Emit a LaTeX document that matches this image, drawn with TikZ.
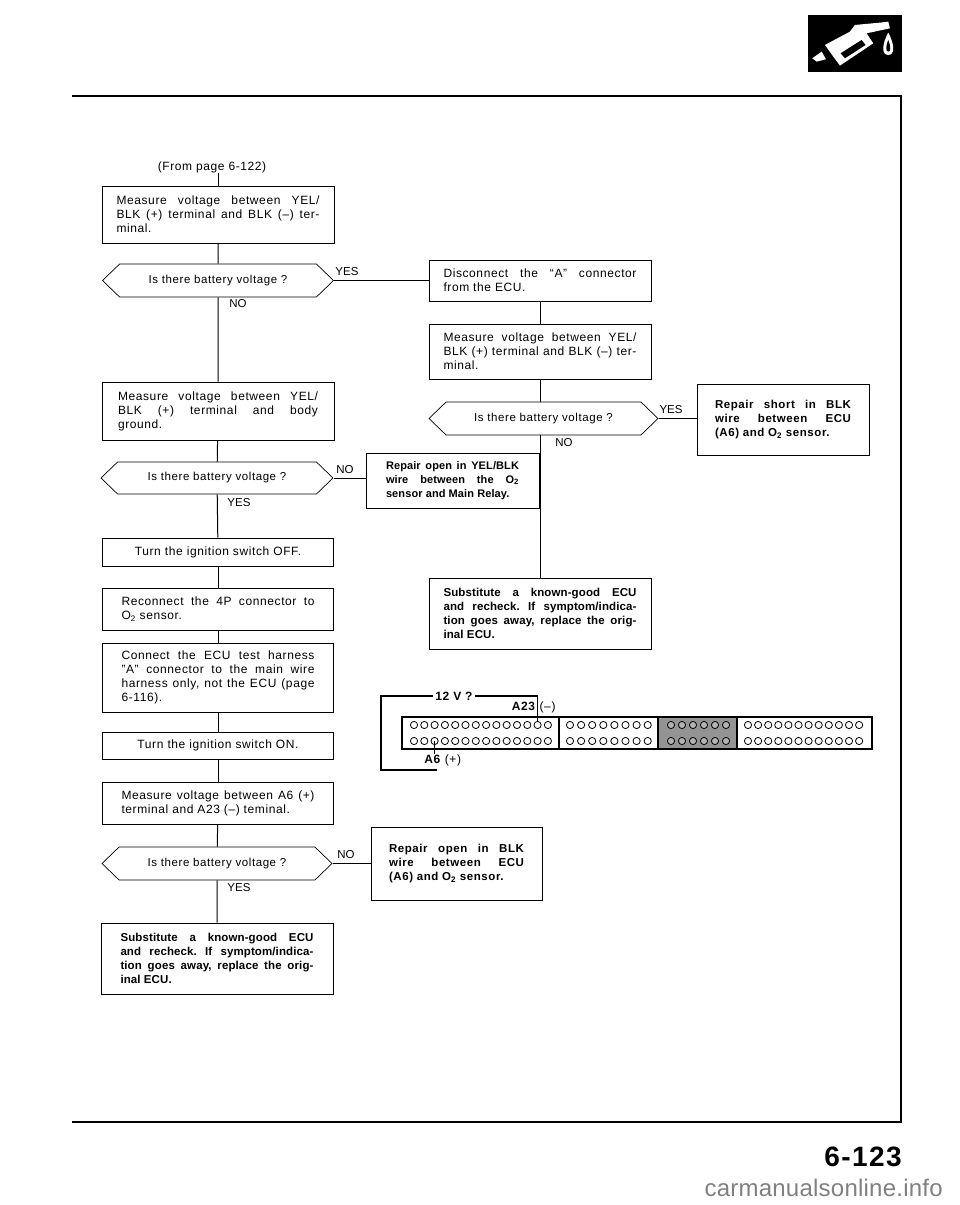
\documentclass[tikz,border=0pt]{standalone}
\usepackage{fontspec}
\setmainfont{Liberation Sans}[LetterSpace=5]
\usetikzlibrary{shapes.symbols}
\newcommand{\Otwo}{O\textsubscript{2}}
\frenchspacing
\tikzset{
  stepbox/.style={draw,line width=0.8pt,align=justify,text width=193pt,inner xsep=0pt,inner ysep=0pt,font=\fontsize{12}{14}\selectfont},
  boldbox/.style={stepbox,font=\fontsize{11.5}{14}\selectfont\bfseries},
  tightbox/.style={stepbox,font=\fontsize{11.5}{14}\selectfont\bfseries\addfontfeatures{LetterSpace=1}},
  relaybox/.style={stepbox,font=\fontsize{11}{14}\selectfont\bfseries\addfontfeatures{LetterSpace=1}},
  askbox/.style={draw,line width=0.7pt,shape=signal,signal to=west and east,signal pointer angle=88,inner sep=0pt,font=\fontsize{11.5}{13}\selectfont},
  answer/.style={font=\fontsize{11.5}{13}\selectfont\addfontfeatures{LetterSpace=0},inner sep=0pt},
  wiretext/.style={inner sep=0pt,font=\fontsize{12}{14}\selectfont\bfseries},
  link/.style={line width=1pt},
  slot/.style={draw,line width=1.5pt},
  pin/.style={draw,circle,line width=0.8pt,inner sep=0pt,minimum size=7.2pt,fill=white}
}
\begin{document}
\begin{tikzpicture}[x=1pt,y=-1pt]
  \useasboundingbox (0,0) rectangle (960,1205);
  % fuel pump badge
  \fill (808,15) rectangle (902,72);
  \begin{scope}[shift={(800,0)},x=0.333pt,y=-0.333pt,fill=white]
    \fill (75,135) -- (150,95) -- (165,75) -- (240,68) -- (265,65) -- (270,85) -- (200,100) -- (220,130) -- (120,197) -- (100,170) -- cycle;
    \fill (37,175) -- (65,155) -- (78,178) -- (50,185) -- cycle;
    \fill[black] (122,160) -- (185,120) -- (197,135) -- (135,175) -- cycle;
    \fill (265,98) .. controls (285,135) and (285,165) .. (265,165) .. controls (245,165) and (245,135) .. (265,98);
    \fill[black] (265,120) .. controls (273,140) and (273,155) .. (265,155) .. controls (257,155) and (257,140) .. (265,120);
  \end{scope}
  % page frame
  \draw[line width=1.2pt] (72,96) -- (901,96) -- (901,1122) -- (72,1122);
  \node[inner sep=0pt,font=\fontsize{12}{14}\selectfont] (from) at (212,167) {(From page 6-122)};

  % left column
  \node[stepbox,text width=203pt,minimum width=232pt,minimum height=57pt] (volt1) at (218,214.5) {Measure voltage between YEL/\linebreak BLK (+) terminal and BLK (--) ter-\linebreak minal.};
  \node[askbox,minimum width=231pt,minimum height=33pt] (ask1) at (218,280.5) {Is there battery voltage ?};
  \node[stepbox,text width=200pt,minimum width=232pt,minimum height=58pt] (volt2) at (218,411) {Measure voltage between YEL/\linebreak BLK (+) terminal and body\linebreak ground.};
  \node[askbox,minimum width=232pt,minimum height=32pt] (ask2) at (217,478) {Is there battery voltage ?};
  \node[stepbox,align=center,minimum width=231pt,minimum height=28pt] (off) at (218,552) {Turn the ignition switch OFF.};
  \node[stepbox,minimum width=231pt,minimum height=42pt] (plug) at (218,609) {Reconnect the 4P connector to\linebreak \Otwo{} sensor.};
  \node[stepbox,minimum width=231pt,minimum height=69pt] (harness) at (218,677.5) {Connect the ECU test harness\linebreak ''A'' connector to the main wire\linebreak harness only, not the ECU (page\linebreak 6-116).};
  \node[stepbox,align=center,minimum width=231pt,minimum height=27pt] (on) at (218,745.5) {Turn the ignition switch ON.};
  \node[stepbox,minimum width=231pt,minimum height=42pt] (volt3) at (218,803) {Measure voltage between A6 (+)\linebreak terminal and A23 (--) teminal.};
  \node[askbox,minimum width=230pt,minimum height=33pt] (ask3) at (217,863.5) {Is there battery voltage ?};
  \node[tightbox,minimum width=232pt,minimum height=71pt] (ecu1) at (217,958.5) {Substitute a known-good ECU\linebreak and recheck. If symptom/indica-\linebreak tion goes away, replace the orig-\linebreak inal ECU.};

  % right column
  \node[stepbox,minimum width=222pt,minimum height=41pt] (unplug) at (540,280.5) {Disconnect the ``A'' connector\linebreak from the ECU.};
  \node[stepbox,minimum width=222pt,minimum height=55pt] (volt4) at (540,351.5) {Measure voltage between YEL/\linebreak BLK (+) terminal and BLK (--) ter-\linebreak minal.};
  \node[askbox,minimum width=229pt,minimum height=33pt] (ask4) at (543.5,418.5) {Is there battery voltage ?};
  \node[boldbox,text width=136pt,minimum width=172pt,minimum height=71pt] (short) at (783,419.5) {Repair short in BLK\linebreak wire between ECU\linebreak (A6) and \Otwo{} sensor.};
  \node[relaybox,text width=133pt,minimum width=173pt,minimum height=55pt] (open1) at (452.5,480.5) {Repair open in YEL/BLK\linebreak wire between the \Otwo\linebreak sensor and Main Relay.};
  \node[tightbox,minimum width=222pt,minimum height=71pt] (ecu2) at (540,613.5) {Substitute a known-good ECU\linebreak and recheck. If symptom/indica-\linebreak tion goes away, replace the orig-\linebreak inal ECU.};
  \node[boldbox,text width=135pt,minimum width=171pt,minimum height=73pt] (open2) at (456.5,863.5) {Repair open in BLK\linebreak wire between ECU\linebreak (A6) and \Otwo{} sensor.};

  % flow lines
  \draw[link] (from.south -| volt1.north) -- (volt1.north);
  \draw[link] (volt1) -- (ask1);
  \draw[link] (ask1) -- (volt2);
  \draw[link] (volt2) -- (ask2);
  \draw[link] (ask2) -- (off);
  \draw[link] (off) -- (plug);
  \draw[link] (plug) -- (harness);
  \draw[link] (harness) -- (on);
  \draw[link] (on) -- (volt3);
  \draw[link] (volt3) -- (ask3);
  \draw[link] (ask3) -- (ecu1);
  \draw[link] (ask1.east) -- (unplug.west |- ask1.east);
  \draw[link] (unplug) -- (volt4);
  \draw[link] (volt4) -- (volt4 |- ask4.north);
  \draw[link] (ask4.south -| ecu2) -- (ecu2);
  \draw[link] (ask4.east) -- (short.west |- ask4.east);
  \draw[link] (ask2.east) -- (open1.west |- ask2.east);
  \draw[link] (ask3.east) -- (open2.west |- ask3.east);

  % answers
  \node[answer] (yes1) at (347,272) {YES};
  \node[answer] (no1) at (238,304) {NO};
  \node[answer] (yes2) at (671,410) {YES};
  \node[answer] (no2) at (564,443) {NO};
  \node[answer] (no3) at (345,470) {NO};
  \node[answer] (yes3) at (239,503) {YES};
  \node[answer] (no4) at (346,855) {NO};
  \node[answer] (yes4) at (239,888) {YES};

  % connector
  \fill[black!42] (658,717) rectangle (737,749);
  \draw[slot] (402,717) rectangle (872,749);
  \draw[slot] (559,717) -- (559,749);
  \draw[slot] (658,717) -- (658,749);
  \draw[slot] (737,717) -- (737,749);
  \foreach \i in {0,...,13} {
    \node[pin] (a\i) at (414+\i*10.3,725) {};
    \node[pin] (b\i) at (414+\i*10.3,741) {};
  }
  \foreach \i in {0,...,7} {
    \node[pin] (c\i) at (570+\i*11.1,725) {};
    \node[pin] (d\i) at (570+\i*11.1,741) {};
  }
  \foreach \i in {0,...,5} {
    \node[pin,fill=black!30] (e\i) at (671+\i*11,725) {};
    \node[pin,fill=black!30] (f\i) at (671+\i*11,741) {};
  }
  \foreach \i in {0,...,11} {
    \node[pin] (g\i) at (748+\i*10.1,725) {};
    \node[pin] (h\i) at (748+\i*10.1,741) {};
  }
  \node[wiretext] (neg) at (534,707) {A23 \textmd{(--)}};
  \node[wiretext] (pos) at (443,760) {A6 \textmd{(+)}};
  \coordinate (wire1) at (381,696);
  \coordinate (wire2) at (381,770);
  \coordinate (wire3) at (437,770);
  \draw[link,line width=1.2pt] (a12.north) -- (a12.north |- wire1) -- (wire1) -- (wire2) -- (wire3);
  \draw[link,line width=1.2pt] (b2.center) -- (b2.center |- pos.north);
  \node[wiretext,fill=white,inner xsep=2pt] (ask12) at (454,696) {12 V ?};

  % page number and site mark
  \node[inner sep=0pt,font=\fontsize{28}{30}\selectfont\bfseries] (pageno) at (863,1157) {6-123};
  \node[inner sep=0pt,anchor=east,text=black!50,font=\fontsize{24}{26}\selectfont\addfontfeatures{LetterSpace=1}] (site) at (943,1188) {carmanualsonline.info};
\end{tikzpicture}
\end{document}
